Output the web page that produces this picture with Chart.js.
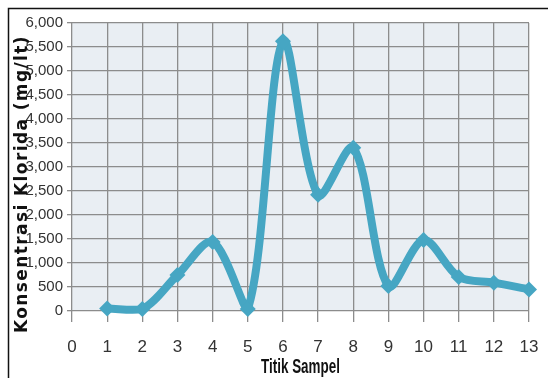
<!DOCTYPE html>
<html>
<head>
<meta charset="utf-8">
<script src="https://cdn.jsdelivr.net/npm/chart.js@4"></script>
<style>
html, body { margin: 0; padding: 0; background: #fff; }
#wrap { width: 548px; height: 378px; }
</style>
</head>
<body>
<div id="wrap"><canvas id="myChart" width="548" height="378"></canvas></div>
<script>
// data
var titik = [1, 2, 3, 4, 5, 6, 7, 8, 9, 10, 11, 12, 13];
var klorida = [50, 40, 750, 1440, 40, 5620, 2420, 3400, 520, 1480, 710, 590, 450];
var xTicks = [0, 1, 2, 3, 4, 5, 6, 7, 8, 9, 10, 11, 12, 13];
var yTicks = [0, 500, 1000, 1500, 2000, 2500, 3000, 3500, 4000, 4500, 5000, 5500, 6000];

var yTitle = "Konsentrasi Klorida (mg/lt)";
var xTitle = "Titik Sampel";

var tickFont = "'Liberation Sans', Arial, sans-serif";
var lineColor = "#46a6c3";

var points = titik.map(function(t, i) { return { x: t, y: klorida[i] }; });

// background, frame and the two axis titles
var decor = {
	id: 'decor',
	beforeDraw: function(chart) {
		var c = chart.ctx, a = chart.chartArea;
		c.save();
		c.fillStyle = "#e9eef3";
		c.fillRect(a.left, a.top, a.right - a.left, a.bottom - a.top);
		c.restore();
	},
	afterDraw: function(chart) {
		var c = chart.ctx, a = chart.chartArea;
		c.save();
		c.strokeStyle = "#111";
		c.lineWidth = 1.5;
		c.beginPath();
		c.moveTo(8.5, 378);
		c.lineTo(8.5, 8.5);
		c.lineTo(548, 8.5);
		c.stroke();

		// y title, stretched to the length it has in the picture
		c.save();
		c.translate(27, 184);
		c.rotate(-Math.PI / 2);
		c.fillStyle = "#111";
		c.font = "bold 17px 'DejaVu Sans', sans-serif";
		var w = c.measureText(yTitle).width;
		c.letterSpacing = ((298 - w) / yTitle.length).toFixed(2) + "px";
		c.textAlign = "center";
		c.textBaseline = "alphabetic";
		c.fillText(yTitle, 0, 0);
		c.restore();

		// x title, condensed
		c.save();
		c.translate((a.left + a.right) / 2, 373);
		c.scale(0.64, 1);
		c.fillStyle = "#111";
		c.font = "bold 21px 'Liberation Sans', Arial, sans-serif";
		c.textAlign = "center";
		c.textBaseline = "alphabetic";
		c.fillText(xTitle, 0, 0);
		c.restore();
		c.restore();
	}
};

var ctx = document.getElementById("myChart");
var chart = new Chart(ctx, {
	type: 'line',
	data: {
		datasets: [{
			data: points,
			borderColor: lineColor,
			backgroundColor: lineColor,
			borderWidth: 8,
			tension: 0.32,
			pointStyle: 'rectRot',
			pointRadius: 8,
			pointBorderWidth: 0,
			clip: false
		}]
	},
	options: {
		responsive: false,
		animation: false,
		layout: { padding: { left: 0, right: 19, top: 23, bottom: 0 } },
		plugins: {
			legend: { display: false },
			tooltip: { enabled: false }
		},
		scales: {
			x: {
				type: 'linear',
				min: 0,
				max: 13,
				afterBuildTicks: function(axis) {
					axis.ticks = xTicks.map(function(v) { return { value: v }; });
				},
				afterFit: function(axis) { axis.height = 67; },
				grid: { color: "#8c8c8c", lineWidth: 1.3, tickLength: 11 },
				border: { display: false },
				ticks: {
					color: "#333",
					padding: 2,
					autoSkip: false,
					maxRotation: 0,
					font: { family: tickFont, size: 17, lineHeight: 2.7 }
				}
			},
			y: {
				min: 0,
				max: 6000,
				afterBuildTicks: function(axis) {
					axis.ticks = yTicks.map(function(v) { return { value: v }; });
				},
				afterFit: function(axis) { axis.width = 72; },
				grid: { color: "#8c8c8c", lineWidth: 1.3, tickLength: 5 },
				border: { display: false },
				ticks: {
					color: "#333",
					padding: 4,
					autoSkip: false,
					font: { family: tickFont, size: 15 },
					callback: function(v) { return v.toLocaleString('en-US'); }
				}
			}
		}
	},
	plugins: [decor]
});
</script>
</body>
</html>
